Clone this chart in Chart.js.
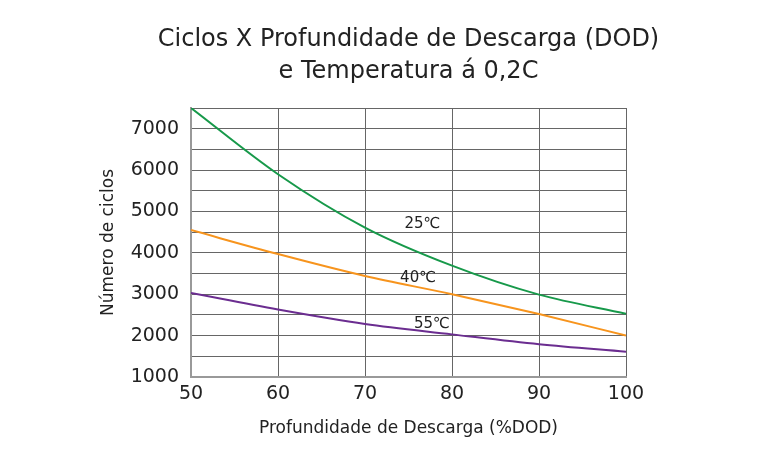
<!DOCTYPE html>
<html>
<head>
<meta charset="utf-8">
<script src="https://cdn.jsdelivr.net/npm/chart.js@4"></script>
<style>
  html, body { margin: 0; padding: 0; background: #fff; }
  #wrap { width: 768px; height: 464px; }
</style>
</head>
<body>
<div id="wrap"><canvas id="canvas" width="768" height="464"></canvas></div>
<script>
//****DATA****//

var dod = [50, 60, 70, 80, 90, 100];
var ciclos25 = [7500, 5900, 4610, 3690, 2990, 2530];
var ciclos40 = [4550, 3970, 3440, 3000, 2520, 2000];
var ciclos55 = [3030, 2630, 2280, 2030, 1790, 1610];
var serieNames = ['25℃', '40℃', '55℃'];
var yTicks = [1000, 2000, 3000, 4000, 5000, 6000, 7000];
var titleLines = ['Ciclos X Profundidade de Descarga (DOD)', 'e Temperatura á 0,2C'];

// where each curve name sits, in data units
var labelSpots = [[76.6, 4690], [76.1, 3400], [77.7, 2270]];

var FONT = '"DejaVu Sans", sans-serif';

//****HELPERS****//

function toPoints(xs, ys) {
  var pts = [];
  for (var i = 0; i < xs.length; i++) {
    pts.push({ x: xs[i], y: ys[i] });
  }
  return pts;
}

function makeSet(name, values, color) {
  return {
    label: name,
    data: toPoints(dod, values),
    borderColor: color,
    borderWidth: 2,
    pointRadius: 0,
    tension: 0.4,
    cubicInterpolationMode: 'monotone',
    fill: false
  };
}

//****PLUGINS****//

// names next to the curves
var curveLabels = {
  id: 'curveLabels',
  afterDatasetsDraw: function(chart) {
    var ctx = chart.ctx;
    var xs = chart.scales.x;
    var ys = chart.scales.y;
    ctx.save();
    ctx.font = '15px ' + FONT;
    ctx.fillStyle = '#222';
    ctx.textAlign = 'center';
    ctx.textBaseline = 'middle';
    for (var i = 0; i < serieNames.length; i++) {
      ctx.fillText(serieNames[i], xs.getPixelForValue(labelSpots[i][0]), ys.getPixelForValue(labelSpots[i][1]));
    }
    ctx.restore();
  }
};

// two line title centred over the plot, not the canvas
var plotTitle = {
  id: 'plotTitle',
  afterDraw: function(chart) {
    var ctx = chart.ctx;
    var area = chart.chartArea;
    var cx = (area.left + area.right) / 2;
    ctx.save();
    ctx.font = '24px ' + FONT;
    ctx.fillStyle = '#222';
    ctx.textAlign = 'center';
    ctx.textBaseline = 'middle';
    for (var i = 0; i < titleLines.length; i++) {
      ctx.fillText(titleLines[i], cx, 40 + i * 32);
    }
    ctx.restore();
  }
};

//****CHART****//

var ctx = document.getElementById('canvas').getContext('2d');

var chart = new Chart(ctx, {
  type: 'line',
  data: {
    datasets: [
      makeSet(serieNames[0], ciclos25, '#17994a'),
      makeSet(serieNames[1], ciclos40, '#f7941d'),
      makeSet(serieNames[2], ciclos55, '#6b2d90')
    ]
  },
  options: {
    responsive: false,
    animation: false,
    layout: { padding: { left: 98, right: 142, top: 108, bottom: 17 } },
    plugins: {
      legend: { display: false },
      tooltip: { enabled: false },
      title: { display: false }
    },
    scales: {
      x: {
        type: 'linear',
        min: 50,
        max: 100,
        ticks: { stepSize: 10, color: '#222', padding: 6, font: { family: FONT, size: 19 } },
        grid: { color: '#666', lineWidth: 1, drawTicks: false },
        border: { color: '#999', width: 2 },
        title: {
          display: true,
          text: 'Profundidade de Descarga (%DOD)',
          color: '#222',
          font: { family: FONT, size: 17 },
          padding: { top: 0, bottom: 8 }
        },
        afterFit: function(scale) { scale.height = 70; }
      },
      y: {
        min: 1000,
        max: 7500,
        afterBuildTicks: function(scale) {
          var t = [];
          for (var v = 1000; v <= 7500; v += 500) t.push({ value: v });
          scale.ticks = t;
        },
        ticks: {
          color: '#222',
          padding: 12,
          autoSkip: false,
          font: { family: FONT, size: 19 },
          callback: function(v) { return yTicks.indexOf(v) >= 0 ? String(v) : ''; }
        },
        grid: { color: '#666', lineWidth: 1, drawTicks: false },
        border: { color: '#999', width: 2 },
        title: {
          display: true,
          text: 'Número de ciclos',
          color: '#222',
          font: { family: FONT, size: 17 },
          padding: { top: 0, bottom: 0 }
        },
        afterFit: function(scale) { scale.width = 93; }
      }
    }
  },
  plugins: [curveLabels, plotTitle]
});
</script>
</body>
</html>
